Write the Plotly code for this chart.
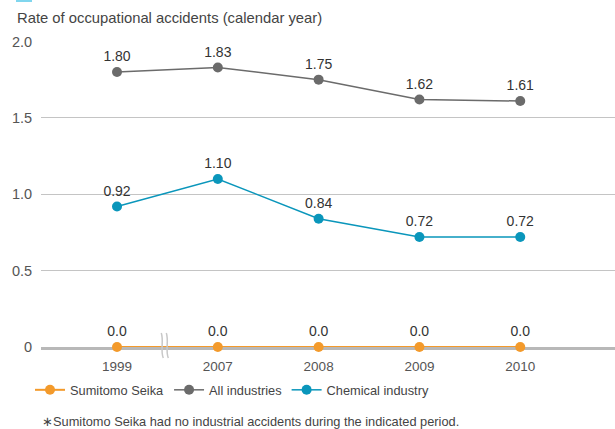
import plotly.graph_objects as go

years = ["1999", "2007", "2008", "2009", "2010"]
sumitomo = [0.0, 0.0, 0.0, 0.0, 0.0]
all_ind = [1.80, 1.83, 1.75, 1.62, 1.61]
chemical = [0.92, 1.10, 0.84, 0.72, 0.72]
ytick_vals = [0, 0.5, 1.0, 1.5, 2.0]
ytick_text = ["0", "0.5", "1.0", "1.5", "2.0"]

FONT = "Liberation Sans, Arial, Helvetica, sans-serif"
C_OR = "#f39a2b"
C_GR = "#6b6b6b"
C_CY = "#0a96bb"

fig = go.Figure()

def add(name, vals, color, fmt, lw=1.5):
    fig.add_trace(go.Scatter(
        x=years, y=vals, name=name, mode="lines+markers+text",
        line=dict(color=color, width=lw),
        marker=dict(color=color, size=10),
        text=[fmt.format(v) for v in vals],
        textposition="top center",
        textfont=dict(family=FONT, size=14, color="#333333"),
        cliponaxis=False,
    ))

add("Sumitomo Seika", sumitomo, C_OR, "{:.1f}", 2)
add("All industries", all_ind, C_GR, "{:.2f}")
add("Chemical industry", chemical, C_CY, "{:.2f}")

# axis break marks between 1999 and 2007
for xo in (0.447, 0.497):
    fig.add_shape(type="path", xref="x", yref="paper",
                  path=f"M {xo+0.012},-0.036 C {xo-0.02},-0.01 {xo+0.02},0.02 {xo-0.008},0.046",
                  line=dict(color="#c8c8c8", width=1.5), layer="above")

# cut-off header marker
fig.add_shape(type="rect", xref="paper", yref="paper",
              x0=(16-41)/574, x1=(32-41)/574, y0=(347-2)/306, y1=(347+2)/306,
              line=dict(width=0), fillcolor="#80d6ee")

fig.add_annotation(text="Rate of occupational accidents (calendar year)",
                   xref="paper", yref="paper", x=(15-41)/574, y=(347-18)/306,
                   xanchor="left", yanchor="middle", showarrow=False,
                   font=dict(family=FONT, size=14.8, color="#444444"))
fig.add_annotation(text="∗Sumitomo Seika had no industrial accidents during the indicated period.",
                   xref="paper", yref="paper", x=(40-41)/574, y=(347-421)/306,
                   xanchor="left", yanchor="middle", showarrow=False,
                   font=dict(family=FONT, size=12.8, color="#444444"))

fig.update_layout(
    width=615, height=429,
    margin=dict(l=41, r=0, t=41, b=82, autoexpand=False),
    paper_bgcolor="white", plot_bgcolor="white",
    font=dict(family=FONT, color="#444444"),
    showlegend=True,
    legend=dict(orientation="h", x=(30-41)/574, y=(347-390)/306,
                xanchor="left", yanchor="middle",
                font=dict(family=FONT, size=12.8, color="#444444"),
                itemwidth=30, tracegroupgap=0, bgcolor="rgba(0,0,0,0)"),
    xaxis=dict(type="category", range=[-0.754, 4.94], showgrid=False,
               showline=True, linecolor="#b8b8b8", linewidth=3, layer="below traces",
               ticks="outside", ticklen=5, tickcolor="rgba(0,0,0,0)",
               tickfont=dict(family=FONT, size=13.5, color="#555555"), fixedrange=True),
    yaxis=dict(range=[0, 2.003], tickvals=ytick_vals, ticktext=ytick_text,
               showgrid=True, gridcolor="#c4c4c4", gridwidth=1, zeroline=False,
               layer="below traces",
               ticks="outside", ticklen=5, tickcolor="rgba(0,0,0,0)",
               tickfont=dict(family=FONT, size=14.5, color="#555555"), fixedrange=True),
)

fig.write_html("out.html", config={"displayModeBar": False},
               post_script="document.body.style.margin='0px';document.body.style.overflow='hidden';")
